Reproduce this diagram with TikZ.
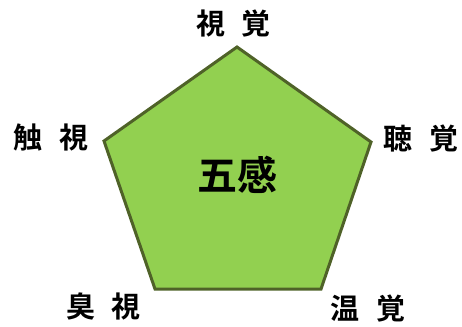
\documentclass[tikz,border=0pt]{standalone}
\usepackage{fontspec}
\newfontfamily\jpfont{Noto Sans CJK JP}[BoldFont={* Bold}]
\definecolor{lightgreen}{HTML}{92D050}
\definecolor{darkolive}{HTML}{4F6228}
\begin{document}
\begin{tikzpicture}[x=1pt,y=-1pt,
  lbl/.style={inner sep=0pt, font=\jpfont\bfseries\fontsize{29}{31}\selectfont, text=black},
  ctr/.style={inner sep=0pt, font=\jpfont\bfseries\fontsize{40}{42}\selectfont, text=black},
  penta/.style={draw=darkolive, line width=3pt, fill=lightgreen, line join=miter}]
\useasboundingbox (0,0) rectangle (462,326);
\coordinate (t) at (237,47);
\coordinate (r) at (371,142);
\coordinate (br) at (321,289);
\coordinate (bl) at (155,289);
\coordinate (l) at (104,141);
\draw[penta] (t) -- (r) -- (br) -- (bl) -- (l) -- cycle;
\node[ctr] (c) at (237,175) {五感};
\node[lbl] (a) at (233.5,24) {視\hspace{17pt}覚};
\node[lbl] (b) at (421,139) {聴\hspace{17pt}覚};
\node[lbl] (d) at (368,309) {温\hspace{17pt}覚};
\node[lbl] (e) at (103.5,307) {臭\hspace{17pt}視};
\node[lbl] (f) at (51,138) {触\hspace{17pt}視};
\end{tikzpicture}
\end{document}
